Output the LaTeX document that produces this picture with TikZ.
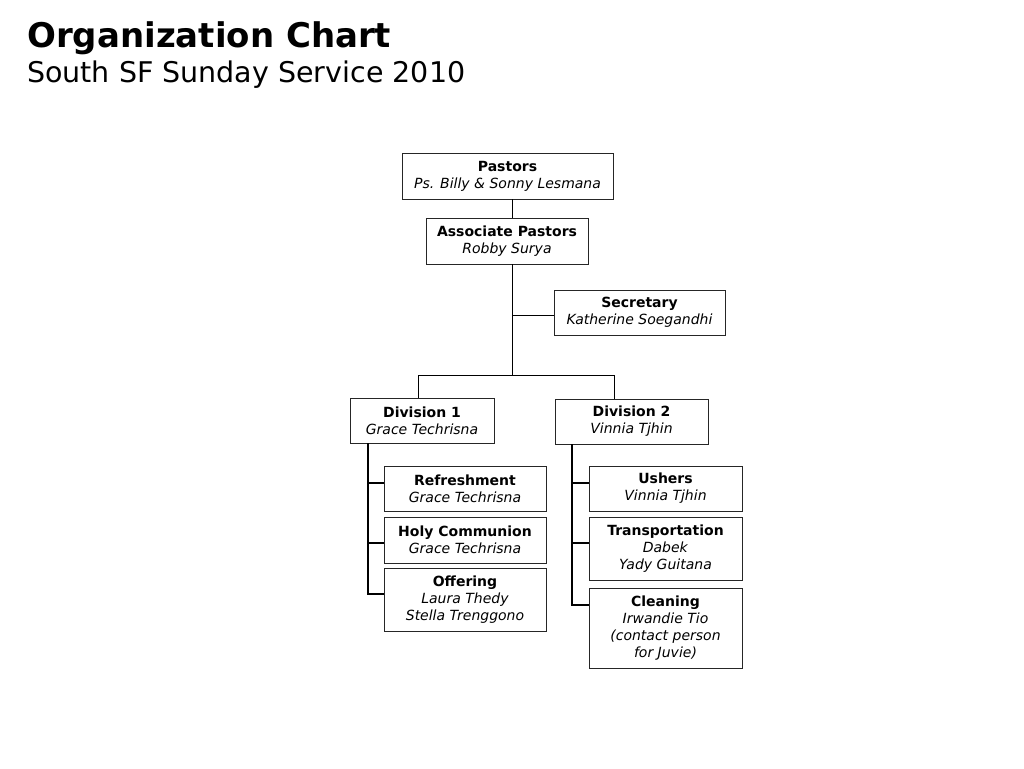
\documentclass[tikz,border=0pt]{standalone}
\usepackage{fontspec}
\setmainfont{DejaVu Sans}
\begin{document}
\begin{tikzpicture}[x=1pt,y=-1pt,
  box/.style={draw=black!85,line width=0.9pt,fill=white,align=center,inner sep=0pt,
    font=\fontsize{14}{17}\selectfont},
  thin/.style={line width=1pt},
  thick/.style={line width=2pt}]
\useasboundingbox (0,0) rectangle (1024,768);
\node[anchor=base west,inner sep=0pt,font=\bfseries\fontsize{34}{40}\selectfont] (title) at (27,48) {Organization Chart};
\node[anchor=base west,inner sep=0pt,font=\fontsize{28.5}{34}\selectfont] (sub) at (27,82) {South SF Sunday Service 2010};

\node[box,minimum width=211pt,minimum height=46pt] (pastors) at (507.5,176) {\textbf{Pastors}\\\textit{Ps. Billy \& Sonny Lesmana}};
\node[box,minimum width=162pt,minimum height=46pt] (assoc) at (507,241) {\textbf{Associate Pastors}\\\textit{Robby Surya}};
\node[box,minimum width=171pt,minimum height=45pt] (sec) at (639.5,312.5) {\textbf{Secretary}\\\textit{Katherine Soegandhi}};
\node[box,minimum width=144pt,minimum height=45pt] (div1) at (422,420.5) {\textbf{Division 1}\\\textit{Grace Techrisna}};
\node[box,minimum width=153pt,minimum height=45pt] (div2) at (631.5,421.5) {\textbf{Division 2}\\\textit{Vinnia Tjhin}};

\node[box,minimum width=162pt,minimum height=45pt] (refr) at (465,488.5) {\textbf{Refreshment}\\\textit{Grace Techrisna}};
\node[box,minimum width=162pt,minimum height=46pt] (holy) at (465,540) {\textbf{Holy Communion}\\\textit{Grace Techrisna}};
\node[box,minimum width=162pt,minimum height=63pt] (off) at (465,599.5) {\textbf{Offering}\\\textit{Laura Thedy}\\\textit{Stella Trenggono}};

\node[box,minimum width=153pt,minimum height=45pt] (ush) at (665.5,488.5) {\textbf{Ushers}\\\textit{Vinnia Tjhin}};
\node[box,minimum width=153pt,minimum height=63pt] (trans) at (665.5,548.5) {\textbf{Transportation}\\\textit{Dabek}\\\textit{Yady Guitana}};
\node[box,minimum width=153pt,minimum height=80pt] (clean) at (665.5,628) {\textbf{Cleaning}\\\textit{Irwandie Tio}\\\textit{(contact person}\\\textit{for Juvie)}};

\coordinate (j1) at (512,375);
\coordinate (js) at (512,315);
\draw[thin] (pastors.south -| j1) -- (assoc.north -| j1);
\draw[thin] (assoc.south -| j1) -- (j1);
\draw[thin] (js) -- (js -| sec.west);
\draw[thin] (div1.north -| 418,0) -- (418,375) -- (614,375) -- (div2.north -| 614,0);

\coordinate (d1) at (368,0);
\draw[thick] (div1.south -| d1) -- (368,594) -- (off.west |- 0,594);
\draw[thick] (368,483) -- (refr.west |- 0,483);
\draw[thick] (368,543) -- (holy.west |- 0,543);
\coordinate (d2) at (572,0);
\draw[thick] (div2.south -| d2) -- (572,605) -- (clean.west |- 0,605);
\draw[thick] (572,483) -- (ush.west |- 0,483);
\draw[thick] (572,543) -- (trans.west |- 0,543);
\end{tikzpicture}
\end{document}
